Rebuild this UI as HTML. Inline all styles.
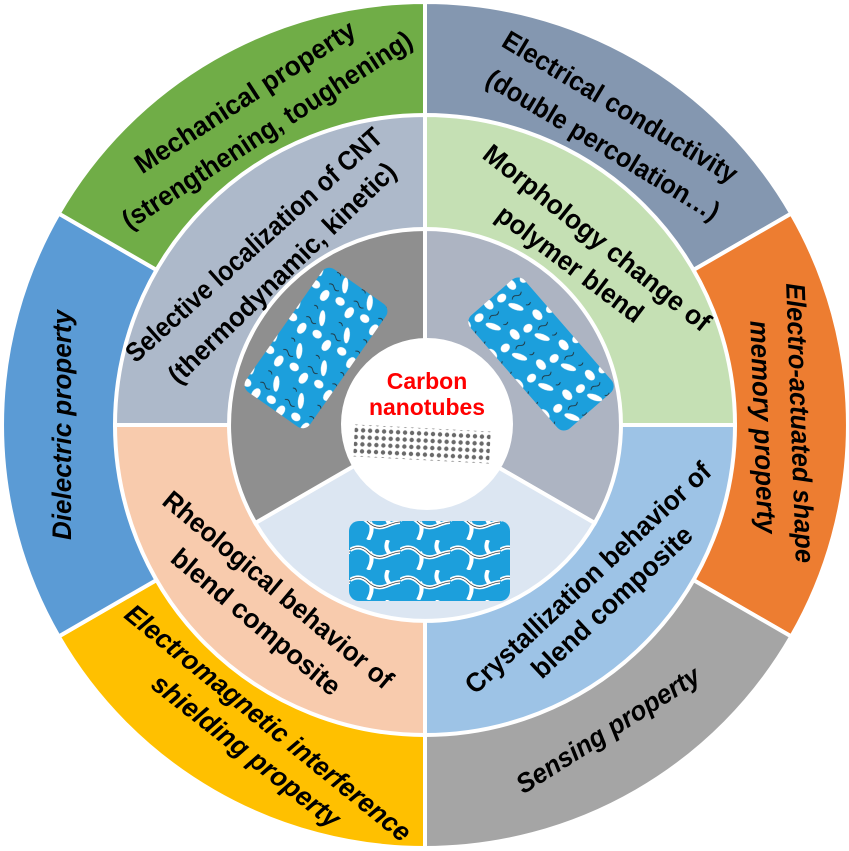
<!DOCTYPE html>
<html><head><meta charset="utf-8"><style>
html,body{margin:0;padding:0;background:#fff;}
svg{display:block;}
text{font-family:"Liberation Sans",sans-serif;font-weight:bold;fill:#000;dominant-baseline:central;}
</style></head><body>
<svg width="849" height="851" viewBox="0 0 849 851" xmlns="http://www.w3.org/2000/svg">
<defs>
<pattern id="blobs" width="40" height="30" patternUnits="userSpaceOnUse">
<rect width="40" height="30" fill="#1c9fdc"/>
<ellipse cx="8" cy="7" rx="6" ry="4" fill="#fff"/>
<ellipse cx="28" cy="18" rx="8" ry="3" fill="#fff" transform="rotate(-30 28 18)"/>
<ellipse cx="12" cy="23" rx="4" ry="5" fill="#fff"/>
<path d="M20 4 q3 3 0 6 q-3 3 0 6" stroke="#222" fill="none" stroke-width="0.8"/>
<path d="M34 4 q2 3 -1 5" stroke="#222" fill="none" stroke-width="0.8"/>
</pattern>
<pattern id="net" width="50" height="30" patternUnits="userSpaceOnUse">
<rect width="50" height="30" fill="#1c9fdc"/>
<path d="M0 10 q10 -6 18 2 t18 4 t14 -4 M20 12 q4 8 -2 18 M38 0 q-4 8 2 14" stroke="#fff" stroke-width="4" fill="none"/>
<path d="M0 10 q10 -6 18 2 t18 4 t14 -4" stroke="#333" stroke-width="0.7" fill="none"/>
</pattern>
<pattern id="tube" width="7" height="7" patternUnits="userSpaceOnUse">
<rect width="7" height="7" fill="#fff"/>
<circle cx="3.5" cy="3.5" r="2.2" fill="#444"/>
</pattern>
</defs>
<!-- outer ring: center (425,425) R 423, 60deg sectors -->
<g stroke="#fff" stroke-width="4">
<path d="M425,425 L425,2 A423,423 0 0 1 791.3,213.5 Z" fill="#8497b0"/>
<path d="M425,425 L791.3,213.5 A423,423 0 0 1 791.3,636.5 Z" fill="#ed7d31"/>
<path d="M425,425 L791.3,636.5 A423,423 0 0 1 425,848 Z" fill="#a5a5a5"/>
<path d="M425,425 L425,848 A423,423 0 0 1 58.7,636.5 Z" fill="#ffc000"/>
<path d="M425,425 L58.7,636.5 A423,423 0 0 1 58.7,213.5 Z" fill="#5b9bd5"/>
<path d="M425,425 L58.7,213.5 A423,423 0 0 1 425,2 Z" fill="#70ad47"/>
</g>
<!-- middle ring R 310 -->
<g stroke="#fff" stroke-width="4">
<path d="M425,425 L425,115 A310,310 0 0 1 735,425 Z" fill="#c5e0b4"/>
<path d="M425,425 L735,425 A310,310 0 0 1 425,735 Z" fill="#9dc3e6"/>
<path d="M425,425 L425,735 A310,310 0 0 1 115,425 Z" fill="#f8cbad"/>
<path d="M425,425 L115,425 A310,310 0 0 1 425,115 Z" fill="#adb9ca"/>
</g>
<!-- inner ring R 196 -->
<g stroke="#fff" stroke-width="4">
<path d="M425,425 L425,229 A196,196 0 0 1 594.7,523 Z" fill="#adb4c2"/>
<path d="M425,425 L594.7,523 A196,196 0 0 1 255.3,523 Z" fill="#dce6f2"/>
<path d="M425,425 L255.3,523 A196,196 0 0 1 425,229 Z" fill="#8f8f8f"/>
</g>
<circle cx="427" cy="424" r="86" fill="#fff"/>
<!-- images -->
<rect x="-75" y="-39" width="150" height="78" rx="9" fill="url(#blobs)" transform="translate(316,348) rotate(-55)"/>
<rect x="-75" y="-36" width="150" height="72" rx="9" fill="url(#blobs)" transform="translate(541,354) rotate(49)"/>
<rect x="349" y="521" width="161" height="80" rx="10" fill="url(#net)"/>
<text x="427" y="381" font-size="23" style="fill:#f00" text-anchor="middle">Carbon</text>
<text x="427" y="407" font-size="23" style="fill:#f00" text-anchor="middle" textLength="116" lengthAdjust="spacingAndGlyphs">nanotubes</text>
<rect x="-68" y="-16" width="136" height="32" fill="url(#tube)" opacity="0.8" transform="translate(422,444) rotate(3)"/>
<!-- outer labels -->
<g font-size="27" text-anchor="middle" lengthAdjust="spacingAndGlyphs">
<text transform="translate(245,97) rotate(-33)" textLength="257" lengthAdjust="spacingAndGlyphs">Mechanical property</text>
<text transform="translate(267,130) rotate(-33)" textLength="340" lengthAdjust="spacingAndGlyphs">(strengthening, toughening)</text>
<text transform="translate(620,107) rotate(31)" textLength="269" lengthAdjust="spacingAndGlyphs">Electrical conductivity</text>
<text transform="translate(603,145) rotate(31)" textLength="267" lengthAdjust="spacingAndGlyphs">(double percolation…)</text>
<text font-style="italic" transform="translate(800,423) rotate(88)" textLength="280" lengthAdjust="spacingAndGlyphs">Electro-actuated shape</text>
<text font-style="italic" transform="translate(763,427) rotate(88)" textLength="213" lengthAdjust="spacingAndGlyphs">memory property</text>
<text font-style="italic" transform="translate(608,730) rotate(-32.5)" textLength="212" lengthAdjust="spacingAndGlyphs">Sensing property</text>
<text font-style="italic" transform="translate(268,723) rotate(39)" textLength="359" lengthAdjust="spacingAndGlyphs">Electromagnetic interference</text>
<text font-style="italic" transform="translate(246,751) rotate(38)" textLength="231" lengthAdjust="spacingAndGlyphs">shielding property</text>
<text font-style="italic" transform="translate(62,425) rotate(-90)" textLength="230" lengthAdjust="spacingAndGlyphs">Dielectric property</text>
<!-- middle labels -->
<text transform="translate(254,245) rotate(-42)" textLength="335" lengthAdjust="spacingAndGlyphs">Selective localization of CNT</text>
<text transform="translate(282,273) rotate(-44)" textLength="305" lengthAdjust="spacingAndGlyphs">(thermodynamic, kinetic)</text>
<text transform="translate(597,238) rotate(38.5)" textLength="282" lengthAdjust="spacingAndGlyphs">Morphology change of</text>
<text transform="translate(570,264) rotate(37)" textLength="176" lengthAdjust="spacingAndGlyphs">polymer blend</text>
<text transform="translate(588,578) rotate(-43)" textLength="325" lengthAdjust="spacingAndGlyphs">Crystallization behavior of</text>
<text transform="translate(612,602) rotate(-43)" textLength="209" lengthAdjust="spacingAndGlyphs">blend composite</text>
<text transform="translate(278,590) rotate(40)" textLength="291" lengthAdjust="spacingAndGlyphs">Rheological behavior of</text>
<text transform="translate(256,622) rotate(40)" textLength="212" lengthAdjust="spacingAndGlyphs">blend composite</text>
</g>
</svg>
</body></html>
